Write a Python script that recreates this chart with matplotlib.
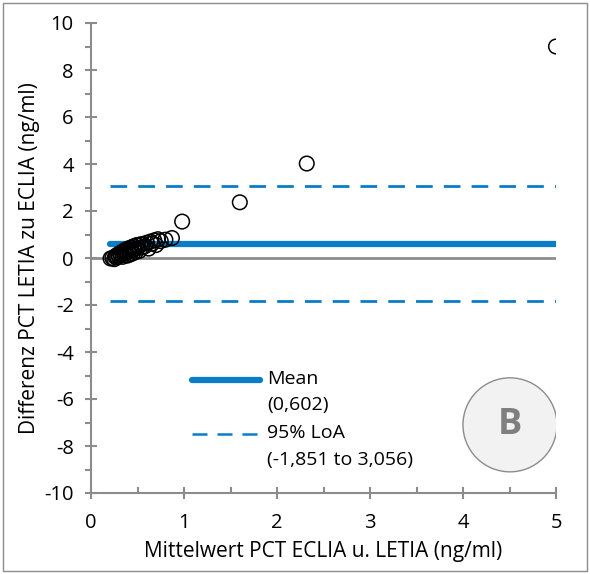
import matplotlib
matplotlib.use("Agg")
import matplotlib.pyplot as plt
from matplotlib.patches import Ellipse, Rectangle

plt.rcParams['font.family'] = ['Open Sans', 'DejaVu Sans']
plt.rcParams['axes.unicode_minus'] = False

mean_x = [0.21,0.23,0.25,0.26,0.27,0.28,0.29,0.30,0.31,0.32,0.33,0.34,0.35,0.36,0.37,0.38,0.39,0.40,0.41,0.42,0.43,0.44,0.45,0.46,0.47,0.48,0.49,0.50,0.52,0.53,0.55,0.56,0.58,0.60,0.62,0.64,0.66,0.68,0.70,0.72,0.75,0.80,0.87,0.98,1.60,2.32,5.00]
diff_y = [-0.02,0.00,-0.05,0.05,0.10,0.02,0.15,0.08,0.20,0.12,0.25,0.05,0.30,0.18,0.35,0.22,0.10,0.40,0.28,0.15,0.45,0.33,0.20,0.50,0.38,0.25,0.55,0.42,0.30,0.58,0.45,0.60,0.50,0.65,0.40,0.70,0.62,0.75,0.55,0.80,0.72,0.78,0.85,1.55,2.37,4.02,9.00]
mean_diff = 0.602
loa_low = -1.851
loa_high = 3.056
line_x = [0.2, 5.0]
legend_labels = ['Mean', '(0,602)', '95% LoA', '(-1,851 to 3,056)']

blue = '#0A7CC8'
grey = '#8C8C8C'

fig = plt.figure(figsize=(5.9, 5.74), dpi=100)
ax = fig.add_axes([91/590, 81/574, 465/590, 470/574])

ax.axhline(0, color=grey, lw=2, zorder=1)
ax.plot(line_x, [mean_diff]*2, color=blue, lw=4.5, solid_capstyle='round', zorder=2)
ax.plot(line_x, [loa_low]*2, color=blue, lw=2, dashes=(6, 4), zorder=2)
ax.plot(line_x, [loa_high]*2, color=blue, lw=2, dashes=(6, 4), zorder=2)
ax.scatter(mean_x, diff_y, s=110, facecolors='none', edgecolors='black', linewidths=1.1, zorder=3)

ax.set_xlim(0, 5)
ax.set_ylim(-10, 10)
ax.set_xticks(range(0, 6))
ax.set_xticks([0.5, 1.5, 2.5, 3.5, 4.5], minor=True)
ax.set_yticks(range(-10, 11, 2))
ax.set_yticks(range(-9, 10, 2), minor=True)
for s in ['top', 'right']:
    ax.spines[s].set_visible(False)
for s in ['left', 'bottom']:
    ax.spines[s].set_color(grey)
    ax.spines[s].set_linewidth(1.5)
ax.tick_params(axis='both', which='major', color=grey, width=1.5, length=9, direction='inout', labelsize=14.5)
ax.tick_params(axis='x', which='major', pad=10)
ax.tick_params(axis='y', which='major', pad=8)
ax.tick_params(axis='x', which='minor', color=grey, width=1.5, length=4, direction='in')
ax.tick_params(axis='y', which='minor', color=grey, width=1.5, length=4, direction='out')
ax.set_xlabel('Mittelwert PCT ECLIA u. LETIA (ng/ml)', fontsize=15, labelpad=6)
ax.set_ylabel('Differenz PCT LETIA zu ECLIA (ng/ml)', fontsize=15, labelpad=3)

# manual legend in axes fraction coordinates
def fx(px):
    return (px - 91) / 465
def fy(py):
    return (493 - py) / 470
ax.plot([fx(192), fx(260)], [fy(380)]*2, transform=ax.transAxes, color=blue, lw=4.5,
        solid_capstyle='round', clip_on=False)
ax.plot([fx(192), fx(262)], [fy(434)]*2, transform=ax.transAxes, color=blue, lw=1.8,
        dashes=(6, 4), clip_on=False)
for lab, py in zip(legend_labels, [379, 405, 433, 460]):
    ax.text(fx(267), fy(py), lab, transform=ax.transAxes, ha='left', va='center', fontsize=14)

circ = Ellipse((0.901, 0.145), 94/465, 94/470, transform=ax.transAxes,
               facecolor='#F2F2F2', edgecolor='#8C8C8C', lw=1, zorder=4)
ax.add_patch(circ)
ax.text(0.901, 0.145, 'B', transform=ax.transAxes, ha='center', va='center',
        fontsize=26, fontweight='bold', color='#7F7F7F', zorder=5)

fig.patches.append(Rectangle((3/590, 3/574), 584/590, 568/574, transform=fig.transFigure,
                             fill=False, edgecolor=grey, lw=1))

fig.savefig('out.png', dpi=100)
